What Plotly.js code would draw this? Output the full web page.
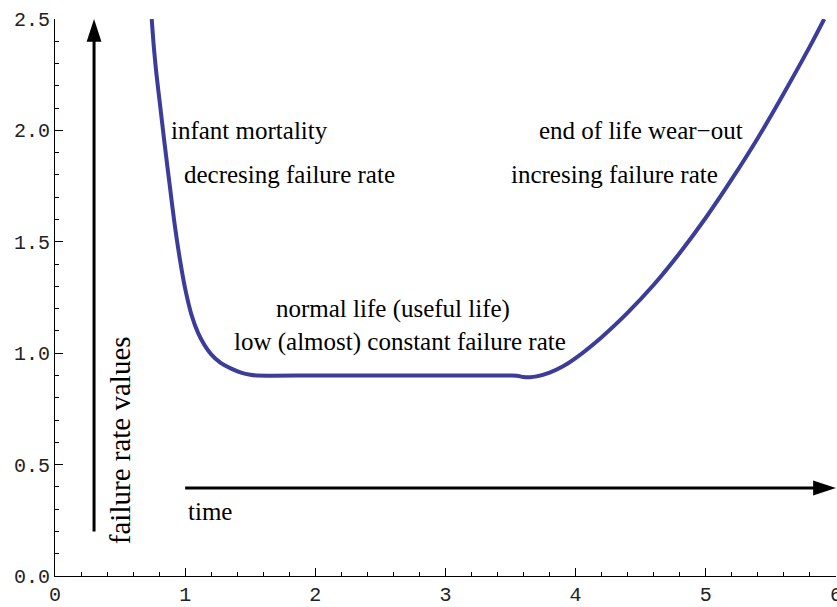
<!DOCTYPE html>
<html>
<head>
<meta charset="utf-8">
<script src="https://cdn.plot.ly/plotly-3.0.1.min.js"></script>
<style>html,body{margin:0;padding:0;background:#fff;}#chart{width:837px;height:607px;}</style>
</head>
<body>
<div id="chart"></div>
<script>
// Bathtub curve
const timeValues = [0.743, 0.76, 0.78, 0.806, 0.84, 0.88, 0.92, 0.96, 1.00, 1.05, 1.10, 1.15, 1.20, 1.27, 1.35, 1.43, 1.50, 1.55,
                    2.0, 2.5, 3.0, 3.5, 3.55, 3.6, 3.65, 3.7, 3.8, 3.9, 4.0, 4.2, 4.4, 4.6, 4.8, 5.0, 5.2, 5.4, 5.6, 5.8, 5.91];
const failureRate = [2.5, 2.37, 2.25, 2.12, 1.95, 1.76, 1.575, 1.42, 1.29, 1.17, 1.09, 1.035, 0.995, 0.958, 0.932, 0.913, 0.903, 0.9,
                     0.9, 0.9, 0.9, 0.9, 0.899, 0.893, 0.892, 0.896, 0.913, 0.94, 0.978, 1.072, 1.182, 1.307, 1.45, 1.608, 1.781, 1.966, 2.167, 2.377, 2.5];

// Arrows (vertical y-arrow and horizontal time arrow)
const vArrowX = [0.3, 0.3];
const vArrowY = [0.2, 2.44];
const vArrowTip = [0.3, 2.5];
const hArrowX = [1.0, 5.93];
const hArrowY = [0.395, 0.395];
const hArrowTip = [6.0, 0.395];

// Text labels
const labelText = ["infant mortality", "decresing failure rate", "end of life wear\u2212out", "incresing failure rate", "normal life (useful life)", "low (almost) constant failure rate", "time"];
const labelX = [1.495, 1.80, 4.50, 4.30, 2.60, 2.65, 1.19];
const labelY = [2.0, 1.80, 2.0, 1.80, 1.20, 1.05, 0.29];
const yLabelText = "failure rate values";
const yLabelPos = [0.5, 0.61];

const xTicks = [0, 1, 2, 3, 4, 5, 6];
const yTicks = [0.0, 0.5, 1.0, 1.5, 2.0, 2.5];

const serif = "Liberation Serif, Times New Roman, serif";
const mono = "Liberation Mono, Courier New, monospace";

const traces = [
  {x: timeValues, y: failureRate, mode: 'lines', line: {color: 'rgb(60,60,155)', width: 4, shape: 'spline', smoothing: 0.8}, hoverinfo: 'skip', cliponaxis: true},
  {x: vArrowX, y: vArrowY, mode: 'lines', line: {color: '#000', width: 3}, hoverinfo: 'skip'},
  {x: hArrowX, y: hArrowY, mode: 'lines', line: {color: '#000', width: 3}, hoverinfo: 'skip'},
  {x: [vArrowTip[0]], y: [vArrowTip[1]], mode: 'markers', marker: {symbol: 'arrow', size: 24, color: '#000', angle: 0, line: {width: 0}}, cliponaxis: false, hoverinfo: 'skip'},
  {x: [hArrowTip[0]], y: [hArrowTip[1]], mode: 'markers', marker: {symbol: 'arrow', size: 24, color: '#000', angle: 90, line: {width: 0}}, cliponaxis: false, hoverinfo: 'skip'}
];

const annotations = labelText.map((t, i) => ({
  x: labelX[i], y: labelY[i], xref: 'x', yref: 'y', text: t, showarrow: false,
  font: {family: serif, size: 25, color: '#000'}, xanchor: 'center', yanchor: 'middle'
}));
annotations.push({
  x: yLabelPos[0], y: yLabelPos[1], xref: 'x', yref: 'y', text: yLabelText, showarrow: false,
  textangle: -90, font: {family: serif, size: 29, color: '#000'}, xanchor: 'center', yanchor: 'middle'
});

const layout = {
  width: 837, height: 607,
  margin: {l: 55, r: 1, t: 19, b: 31, pad: 0},
  paper_bgcolor: '#fff', plot_bgcolor: '#fff',
  showlegend: false,
  xaxis: {
    range: [0, 6.0005], showgrid: false, zeroline: false, showline: true, linecolor: '#000', linewidth: 1,
    tickmode: 'array', tickvals: xTicks, ticktext: xTicks.map(String), ticklabeloverflow: 'allow',
    ticks: 'inside', ticklen: 8, tickwidth: 1, tickcolor: '#000',
    minor: {dtick: 0.2, tick0: 0, ticks: 'inside', ticklen: 4, tickwidth: 1, tickcolor: '#000', showgrid: false},
    tickfont: {family: mono, size: 20, color: '#222'}, fixedrange: true
  },
  yaxis: {
    range: [0, 2.5], showgrid: false, zeroline: false, showline: true, linecolor: '#000', linewidth: 1,
    tickmode: 'array', tickvals: yTicks, ticktext: yTicks.map(v => v.toFixed(1)), ticklabeloverflow: 'allow',
    ticks: 'inside', ticklen: 8, tickwidth: 1, tickcolor: '#000',
    minor: {dtick: 0.1, tick0: 0, ticks: 'inside', ticklen: 4, tickwidth: 1, tickcolor: '#000', showgrid: false},
    tickfont: {family: mono, size: 20, color: '#222'}, fixedrange: true
  },
  annotations: annotations
};

Plotly.newPlot('chart', traces, layout, {displayModeBar: false, staticPlot: true});
</script>
</body>
</html>
